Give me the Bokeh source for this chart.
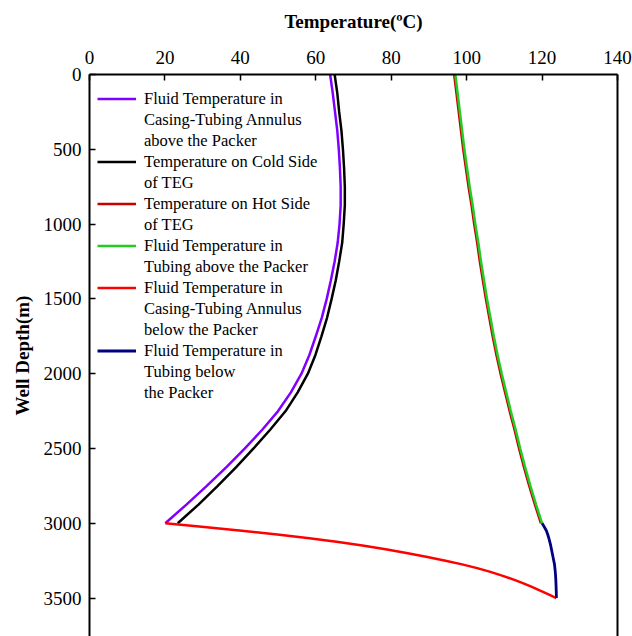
from bokeh.plotting import figure
from bokeh.models import Range1d, LinearAxis, FixedTicker, Legend, LegendItem
from bokeh.embed import file_html
from bokeh.resources import INLINE

# ---- data ----
depth_above = [0, 125, 250, 375, 500, 625, 750, 875, 1000, 1125, 1250, 1375, 1500,
               1625, 1750, 1875, 2000, 2125, 2250, 2375, 2500, 2625, 2750, 2875, 3000]
t_annulus_above = [63.8, 64.5, 65.1, 65.7, 66.1, 66.4, 66.6, 66.6, 66.3, 65.8, 65.0, 64.0, 62.9,
                   61.6, 60.0, 58.3, 56.2, 53.4, 50.0, 45.8, 41.2, 36.3, 31.1, 25.7, 20.1]
t_cold_side = [65.0, 65.7, 66.2, 66.8, 67.2, 67.5, 67.7, 67.7, 67.4, 67.0, 66.2, 65.3, 64.2,
               63.0, 61.5, 59.9, 57.9, 55.2, 52.0, 47.9, 43.5, 38.9, 34.0, 28.9, 23.4]
t_tubing_above = [97.0, 97.6, 98.2, 98.8, 99.4, 100.1, 100.8, 101.6, 102.3, 103.1, 103.8, 104.6, 105.4,
                  106.3, 107.2, 108.2, 109.3, 110.5, 111.7, 113.0, 114.2, 115.5, 116.9, 118.4, 120.0]
t_hot_side = [96.7, 97.3, 97.9, 98.5, 99.1, 99.8, 100.5, 101.3, 102.0, 102.8, 103.5, 104.3, 105.1,
              106.0, 106.9, 107.9, 109.0, 110.2, 111.4, 112.7, 113.9, 115.2, 116.6, 118.1, 119.7]

depth_below = [3000, 3025, 3050, 3075, 3100, 3125, 3150, 3175, 3200, 3225, 3250,
               3275, 3300, 3325, 3350, 3375, 3400, 3425, 3450, 3475, 3500]
t_annulus_below = [20.1, 30.4, 40.4, 49.8, 58.3, 66.0, 72.8, 78.9, 84.4, 89.6, 94.4,
                   98.8, 102.8, 106.3, 109.4, 112.3, 114.9, 117.3, 119.5, 121.7, 123.8]
t_tubing_below = [120.0, 120.6, 121.15, 121.5, 121.8, 122.05, 122.3, 122.5, 122.7, 122.9, 123.1,
                  123.3, 123.4, 123.5, 123.58, 123.64, 123.68, 123.72, 123.75, 123.78, 123.8]

x_ticks = [0, 20, 40, 60, 80, 100, 120, 140]
y_ticks = [0, 500, 1000, 1500, 2000, 2500, 3000, 3500]

labels = [
    ["Fluid Temperature in", "Casing-Tubing Annulus", "above the Packer"],
    ["Temperature on Cold Side", "of TEG"],
    ["Temperature on Hot Side", "of TEG"],
    ["Fluid Temperature in", "Tubing above the Packer"],
    ["Fluid Temperature in", "Casing-Tubing Annulus", "below the Packer"],
    ["Fluid Temperature in", "Tubing below", "the Packer"],
]
colors = ["#8000FF", "#000000", "#C80000", "#22CC22", "#FF0000", "#000080"]

FONT = "Liberation Serif"
LW = 2.5

p = figure(width=632, height=636, x_range=Range1d(0, 140), y_range=Range1d(3757, 0),
           x_axis_location="above", output_backend="svg", toolbar_location=None,
           min_border_left=89, min_border_right=15, min_border_top=74, min_border_bottom=0)
p.outline_line_color = None
p.grid.visible = False
p.background_fill_color = "white"
p.border_fill_color = "white"

r1 = p.line(t_annulus_above, depth_above, line_color=colors[0], line_width=LW)
r2 = p.line(t_cold_side, depth_above, line_color=colors[1], line_width=LW)
r3 = p.line(t_hot_side, depth_above, line_color=colors[2], line_width=LW)
r4 = p.line(t_tubing_above, depth_above, line_color=colors[3], line_width=LW)
r5 = p.line(t_annulus_below, depth_below, line_color=colors[4], line_width=LW)
r6 = p.line(t_tubing_below, depth_below, line_color=colors[5], line_width=LW + 0.3)

xa = p.xaxis[0]
xa.ticker = FixedTicker(ticks=x_ticks)
xa.axis_label = "Temperature(ºC)"
ya = p.yaxis[0]
ya.ticker = FixedTicker(ticks=y_ticks)
ya.axis_label = "Well Depth(m)"
for ax in (xa, ya):
    ax.axis_line_width = 2
    ax.major_tick_in = 6
    ax.major_tick_out = 0
    ax.major_tick_line_width = 1.5
    ax.minor_tick_line_color = None
    ax.major_label_text_font = FONT
    ax.major_label_text_font_size = "19px"
    ax.major_label_text_font_style = "normal"
    ax.major_label_text_color = "black"
    ax.axis_label_text_font = FONT
    ax.axis_label_text_font_size = "19px"
    ax.axis_label_text_font_style = "bold"
    ax.axis_label_text_color = "black"
xa.major_label_standoff = 11
xa.axis_label_standoff = 16
ya.major_label_standoff = 8
ya.axis_label_standoff = 8

ra = LinearAxis(ticker=FixedTicker(ticks=[]), axis_line_width=2,
                major_tick_in=0, major_tick_out=0, minor_tick_line_color=None,
                major_label_text_font_size="0px")
p.add_layout(ra, "right")

items = []
for lines, r in zip(labels, [r1, r2, r3, r4, r5, r6]):
    items.append(LegendItem(label=lines[0], renderers=[r]))
    for extra in lines[1:]:
        items.append(LegendItem(label=extra, renderers=[]))

ITEM_H = 21
PAD = 9
n = len(items)
leg_h = 2 * PAD + n * ITEM_H
leg = Legend(items=items, location=(8, int(562 - 3 - leg_h) + 7))
leg.label_text_font = FONT
leg.label_text_font_size = "16.5px"
leg.label_text_color = "black"
leg.glyph_width = 39
leg.glyph_height = ITEM_H
leg.label_height = ITEM_H
leg.label_standoff = 8
leg.padding = PAD
leg.margin = 0
leg.spacing = 0
leg.border_line_color = None
leg.background_fill_alpha = 0
p.add_layout(leg)

open("out.html", "w").write(file_html(p, INLINE))
